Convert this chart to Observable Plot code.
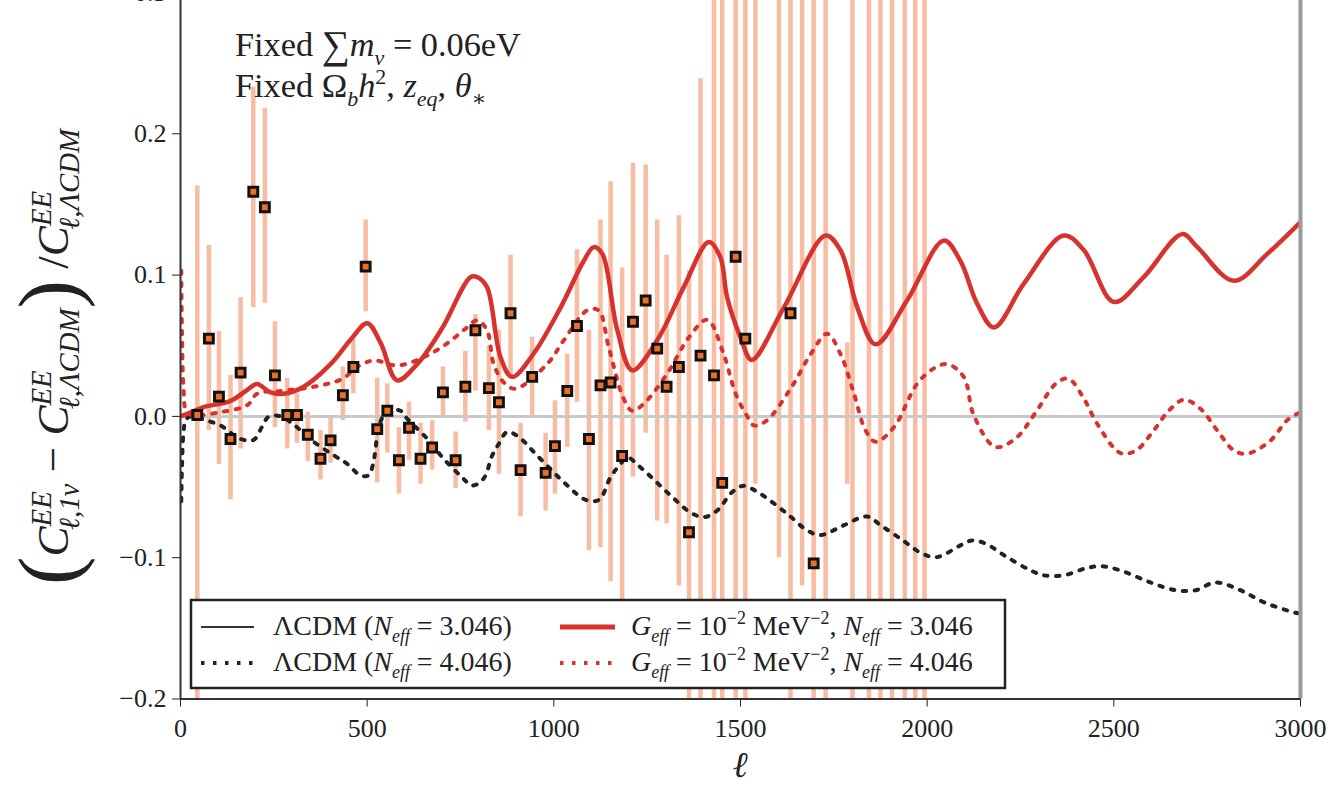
<!DOCTYPE html>
<html><head><meta charset="utf-8">
<script src="https://cdn.jsdelivr.net/npm/d3@7"></script>
<script src="https://cdn.jsdelivr.net/npm/@observablehq/plot@0.6"></script>
<style>
html,body{margin:0;padding:0;background:#fff;}
#wrap{width:1339px;height:792px;overflow:hidden;position:relative;background:#fff;}
#wrap svg{position:absolute;left:0;top:-18px;}
</style></head><body><div id="wrap"></div>
<script>
// ---------- data ----------
const xTicks = [0, 500, 1000, 1500, 2000, 2500, 3000];
const yTicks = [-0.2, -0.1, 0.0, 0.1, 0.2, 0.3];

// G_eff = 1e-2 MeV^-2, N_eff = 3.046 (solid red)
const gN3Ell = [0,20,62,134,180,205,241,276,330,402,455,500,536,580,634,700,777,795,821,857,888,946,1018,1080,1107,1130,1170,1210,1277,1348,1415,1446,1464,1500,1530,1616,1728,1768,1813,1862,1946,2045,2089,2134,2179,2259,2366,2420,2500,2580,2683,2723,2821,2911,3000];
const gN3Val = [0,0.002,0.0066,0.011,0.019,0.023,0.017,0.016,0.021,0.037,0.054,0.066,0.052,0.0255,0.037,0.062,0.0986,0.0986,0.0915,0.042,0.028,0.0445,0.077,0.110,0.1198,0.115,0.061,0.0326,0.054,0.0915,0.1235,0.1127,0.0845,0.056,0.040,0.077,0.128,0.1175,0.077,0.051,0.082,0.1245,0.110,0.0797,0.063,0.094,0.128,0.1175,0.081,0.0986,0.129,0.12,0.096,0.115,0.1375];

// G_eff = 1e-2 MeV^-2, N_eff = 4.046 (dotted red)
const gN4Ell = [2,4,8,15,30,107,179,205,268,330,393,437,473,518,580,652,714,763,795,821,839,866,897,982,1027,1089,1120,1147,1187,1210,1241,1303,1362,1411,1455,1487,1518,1536,1570,1634,1688,1732,1768,1804,1835,1862,1911,1973,2018,2054,2098,2125,2183,2241,2286,2348,2379,2420,2455,2518,2560,2607,2647,2688,2732,2777,2821,2857,2920,2964,3000];
const gN4Val = [0.103,0.06,0.02,0.004,0.001,0.003,0.008,0.016,0.018,0.0198,0.023,0.027,0.035,0.0396,0.036,0.042,0.0516,0.062,0.068,0.061,0.037,0.024,0.0196,0.037,0.054,0.075,0.075,0.049,0.0125,0.004,0.009,0.030,0.056,0.0684,0.044,0.016,0.0,-0.0064,-0.003,0.0196,0.044,0.0585,0.044,0.016,-0.0099,-0.018,-0.0076,0.023,0.034,0.037,0.028,0.0007,-0.0217,-0.0146,0.001,0.024,0.0266,0.0125,-0.005,-0.026,-0.024,-0.0099,0.004,0.0118,0.0054,-0.0099,-0.024,-0.0264,-0.017,-0.0028,0.003];

// LambdaCDM, N_eff = 4.046 (dotted black)
const lN4Ell = [2,4,8,15,30,71,107,161,196,218,237,268,304,357,411,446,482,504,516,522,531,554,589,607,661,705,754,781,812,835,853,875,906,955,1031,1085,1121,1152,1179,1196,1236,1313,1366,1402,1438,1478,1509,1536,1571,1625,1679,1714,1777,1839,1875,1929,1986,2026,2089,2120,2156,2214,2277,2313,2365,2424,2464,2518,2598,2665,2719,2772,2839,2906,2987,3000];
const lN4Val = [-0.06,-0.035,-0.012,-0.002,0,-0.003,-0.0064,-0.016,-0.0166,-0.0076,0,0,-0.006,-0.018,-0.0276,-0.0335,-0.0417,-0.0417,-0.0335,-0.024,-0.0076,0.004,0.004,-0.0016,-0.0158,-0.03,-0.043,-0.049,-0.044,-0.0276,-0.0193,-0.011,-0.0146,-0.0276,-0.0476,-0.059,-0.059,-0.043,-0.0335,-0.029,-0.037,-0.056,-0.068,-0.0713,-0.0665,-0.0535,-0.049,-0.052,-0.058,-0.0689,-0.0807,-0.084,-0.077,-0.0708,-0.077,-0.0866,-0.097,-0.0996,-0.0913,-0.0878,-0.090,-0.0996,-0.109,-0.1125,-0.1125,-0.1076,-0.106,-0.109,-0.1175,-0.123,-0.123,-0.1175,-0.123,-0.132,-0.139,-0.1395];

// binned data points with error bars (null value = marker off the visible range)
const ptEll = [45,76,103,134,161,195,226,253,286,312,341,375,402,435,463,496,527,554,585,612,643,674,703,737,763,790,826,853,884,911,942,978,1003,1036,1062,1094,1125,1152,1183,1212,1246,1277,1302,1335,1362,1393,1429,1451,1487,1513,1540,1603,1634,1665,1696,1728,1786,1800,1844,1875,1906,1940,1968,1993];
const ptVal = [0.001,0.055,0.014,-0.016,0.031,0.159,0.148,0.029,0.001,0.001,-0.013,-0.030,-0.017,0.015,0.035,0.106,-0.009,0.004,-0.031,-0.008,-0.030,-0.022,0.017,-0.031,0.021,0.061,0.020,0.010,0.073,-0.038,0.028,-0.040,-0.021,0.018,0.064,-0.016,0.022,0.024,-0.028,0.067,0.082,0.048,0.021,0.035,-0.082,0.043,0.029,-0.047,0.113,0.055,null,null,0.073,null,-0.104,null,null,null,null,null,null,null,null,null];
const ptLo  = [-0.2,-0.01,-0.034,-0.059,-0.023,0.077,0.080,-0.008,-0.023,-0.019,-0.032,-0.045,-0.033,-0.003,0.016,0.074,-0.047,-0.026,-0.055,-0.031,-0.048,-0.038,0.0,-0.051,-0.004,0.018,-0.010,-0.041,0.028,-0.071,0.0,-0.067,-0.055,-0.022,0.010,-0.095,-0.093,-0.117,-0.130,-0.043,-0.012,-0.074,-0.076,-0.120,-0.25,-0.25,-0.25,-0.25,-0.25,-0.25,-0.048,-0.10,-0.25,-0.12,-0.25,-0.25,-0.048,-0.25,-0.25,-0.25,-0.25,-0.25,-0.25,-0.25];
const ptHi  = [0.163,0.121,0.060,0.029,0.084,0.233,0.218,0.067,0.027,0.016,0.003,-0.010,0.0,0.035,0.054,0.139,0.027,0.023,-0.008,0.010,-0.005,-0.003,0.035,-0.011,0.046,0.072,0.050,0.061,0.114,-0.005,0.056,-0.012,0.011,0.044,0.118,0.061,0.139,0.166,0.105,0.179,0.178,0.139,0.114,0.142,0.103,0.239,0.35,0.35,0.35,0.35,0.35,0.35,0.35,0.35,0.35,0.35,0.052,0.35,0.35,0.35,0.35,0.35,0.35,0.35];

// ---------- tables ----------
const toRows = (xs, ys) => xs.map((x, i) => ({ell: x, v: ys[i]}));
const solidRed = toRows(gN3Ell, gN3Val);
const dotRed = toRows(gN4Ell, gN4Val);
const dotBlack = toRows(lN4Ell, lN4Val);
const points = ptEll.map((x, i) => ({ell: x, v: ptVal[i], lo: ptLo[i], hi: ptHi[i]}));

const RED = "#d7322d";
const OFF = 18; // svg is shifted up by this many pixels
const FONT = "Liberation Serif, DejaVu Serif, Noto Serif, serif";

const chart = Plot.plot({
  width: 1339, height: 810,
  marginLeft: 180, marginRight: 39, marginTop: 10, marginBottom: 93.5,
  style: {fontFamily: FONT, fontSize: "26px", color: "#222", background: "white", overflow: "visible"},
  x: {domain: [0, 3000]},
  y: {domain: [-0.2, 0.3]},
  marks: [
    Plot.ruleX(points, {x: "ell", y1: "lo", y2: "hi", stroke: "#f4a582", strokeOpacity: 0.75, strokeWidth: 4.5, clip: true}),
    Plot.ruleY([0], {stroke: "#c9c9c9", strokeWidth: 3}),
    Plot.line(dotBlack, {x: "ell", y: "v", stroke: "#222", strokeWidth: 4, strokeDasharray: "3.5,8.5", curve: "catmull-rom", clip: true}),
    Plot.line(dotRed, {x: "ell", y: "v", stroke: RED, strokeWidth: 4, strokeDasharray: "3.5,8.5", curve: "catmull-rom", clip: true}),
    Plot.line(solidRed, {x: "ell", y: "v", stroke: RED, strokeWidth: 4.5, curve: "catmull-rom", clip: true}),
    Plot.dot(points.filter(d => d.v != null), {x: "ell", y: "v", symbol: "square", r: 5, fill: "#e8702a", stroke: "#111", strokeWidth: 3, clip: true}),
    Plot.ruleX([0], {stroke: "#333", strokeWidth: 2}),
    Plot.ruleX([3000], {stroke: "#9a9a9a", strokeWidth: 4}),
    Plot.ruleY([-0.2], {stroke: "#333", strokeWidth: 2}),
    Plot.axisX({ticks: xTicks, tickSize: 8, tickPadding: 12, label: null, tickFormat: d => String(d)}),
    Plot.axisY({ticks: yTicks, tickSize: 8, tickPadding: 6, label: null, tickFormat: d3.format(".1f")})
  ]
});
document.getElementById("wrap").appendChild(chart);

// ---------- math-like text helper ----------
const svg = d3.select(chart);
function mathRaw(parent, pieces, size) {
  const g = parent.append("g").attr("font-family", FONT).attr("fill", "#222").attr("text-anchor", "start");
  let cx = 0;
  for (const p of pieces) {
    const fs = size * (p.s || 1);
    const t = g.append("text").attr("x", cx).attr("y", (p.dy || 0) * size).style("white-space", "pre")
      .attr("font-size", fs).attr("font-style", p.it ? "italic" : "normal").text(p.t);
    const w = t.node().getComputedTextLength();
    let w2 = 0;
    if (p.sup != null) {
      const dx = (p.supdx || 0) * size;
      const u = g.append("text").attr("x", cx + w + dx).attr("y", -0.38 * size).style("white-space", "pre")
        .attr("font-size", 0.64 * size).attr("font-style", p.supit ? "italic" : "normal").text(p.sup);
      w2 = Math.max(w2, u.node().getComputedTextLength() + dx);
    }
    if (p.sub != null) {
      const dx = (p.subdx || 0) * size;
      const u = g.append("text").attr("x", cx + w + dx).attr("y", 0.25 * size).style("white-space", "pre")
        .attr("font-size", 0.64 * size).attr("font-style", p.subit ? "italic" : "normal").text(p.sub);
      w2 = Math.max(w2, u.node().getComputedTextLength() + dx);
    }
    cx += w + w2;
  }
  return {g, w: cx};
}
function mathFit(parent, pieces, size, target) {
  let r = mathRaw(parent, pieces, size);
  if (target) { const s2 = size * target / r.w; r.g.remove(); r = mathRaw(parent, pieces, s2); r.size = s2; }
  else r.size = size;
  return r;
}

// ---------- annotation (top-left) ----------
const ann1 = mathFit(svg, [
  {t: "Fixed "}, {t: "∑", s: 1.15, dy: 0.05}, {t: "m", it: true, sub: "ν", subit: true}, {t: " = 0.06eV"}
], 24, 286);
ann1.g.attr("transform", `translate(235,${56 + OFF})`);
const ann2 = mathRaw(svg, [
  {t: "Fixed "}, {t: "Ω", sub: "b", subit: true}, {t: "h", it: true, sup: "2"}, {t: ", "},
  {t: "z", it: true, sub: "eq", subit: true}, {t: ", "}, {t: "θ", it: true, sub: "∗"}
], ann1.size);
ann2.g.attr("transform", `translate(235,${97 + OFF})`);

// ---------- y-axis label ----------
const Cpiece = (sub) => ({t: "C", it: true, sup: "EE", supit: true, sub: sub, subit: true, subdx: -0.08});
const ylab = mathFit(svg, [
  {t: "(", s: 1.9, dy: 0.2}, Cpiece("ℓ,1ν"), {t: " − "}, Cpiece("ℓ,ΛCDM"), {t: ")", s: 1.9, dy: 0.2},
  {t: " /"}, Cpiece("ℓ,ΛCDM")
], 32, 456);
ylab.g.attr("transform", `translate(68,${357 + OFF}) rotate(-90) translate(${-ylab.w / 2},0)`);

// ---------- x-axis label ----------
svg.append("text").attr("x", 740).attr("y", 777 + OFF).attr("text-anchor", "middle")
  .attr("font-family", FONT).attr("font-style", "italic").attr("font-size", 36).attr("fill", "#222").text("ℓ");

// ---------- legend ----------
const leg = svg.append("g").attr("transform", `translate(0,${OFF})`);
leg.append("rect").attr("x", 191).attr("y", 600).attr("width", 814).attr("height", 88)
  .attr("fill", "white").attr("stroke", "#222").attr("stroke-width", 2.5);
const rows = [627, 663];
leg.append("line").attr("x1", 201).attr("x2", 254).attr("y1", rows[0]).attr("y2", rows[0]).attr("stroke", "#333").attr("stroke-width", 2);
leg.append("line").attr("x1", 201).attr("x2", 254).attr("y1", rows[1]).attr("y2", rows[1]).attr("stroke", "#222").attr("stroke-width", 4).attr("stroke-dasharray", "3.5,8.5");
leg.append("line").attr("x1", 560).attr("x2", 615).attr("y1", rows[0]).attr("y2", rows[0]).attr("stroke", RED).attr("stroke-width", 5);
leg.append("line").attr("x1", 560).attr("x2", 615).attr("y1", rows[1]).attr("y2", rows[1]).attr("stroke", RED).attr("stroke-width", 4).attr("stroke-dasharray", "3.5,8.5");
const lcdm = (v) => [{t: "ΛCDM ("}, {t: "N", it: true, sub: "eff", subit: true}, {t: " = " + v + ")"}];
const geff = (v) => [{t: "G", it: true, sub: "eff", subit: true}, {t: " = 10", sup: "−2"}, {t: " MeV", sup: "−2"}, {t: ", "}, {t: "N", it: true, sub: "eff", subit: true}, {t: " = " + v}];
const l1 = mathFit(leg, lcdm("3.046"), 22, 239); l1.g.attr("transform", `translate(273,${rows[0] + 8})`);
const l2 = mathRaw(leg, lcdm("4.046"), l1.size); l2.g.attr("transform", `translate(273,${rows[1] + 8})`);
const l3 = mathRaw(leg, geff("3.046"), l1.size); l3.g.attr("transform", `translate(631,${rows[0] + 8})`);
const l4 = mathRaw(leg, geff("4.046"), l1.size); l4.g.attr("transform", `translate(631,${rows[1] + 8})`);
</script></body></html>
